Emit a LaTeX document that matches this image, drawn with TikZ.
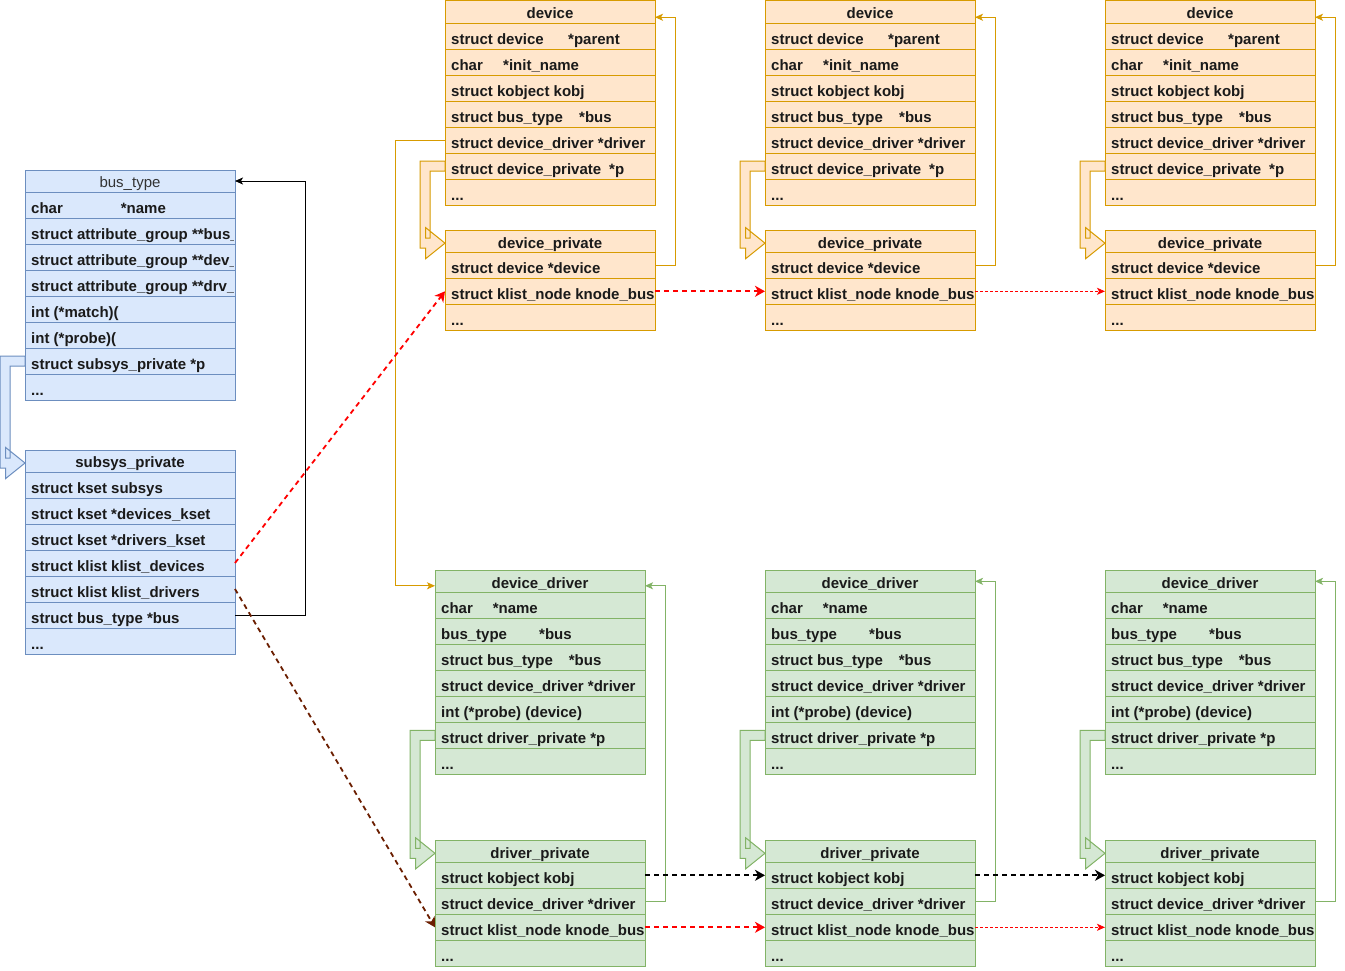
\documentclass[tikz,border=0pt]{standalone}
\usepackage{fontspec}
\setmainfont{Liberation Sans}
\usetikzlibrary{arrows.meta,calc}
\definecolor{ofill}{HTML}{FFE6CC}
\definecolor{ostroke}{HTML}{D79B00}
\definecolor{gfill}{HTML}{D5E8D4}
\definecolor{gstroke}{HTML}{82B366}
\definecolor{bfill}{HTML}{DAE8FC}
\definecolor{bstroke}{HTML}{6C8EBF}
\definecolor{brownline}{HTML}{6B1E00}
\definecolor{txt}{HTML}{1A1A1A}
\definecolor{hdrgray}{HTML}{333333}
\definecolor{redline}{HTML}{FF0000}
\newcommand\threedots{...}
\tikzset{
 orangebox/.style={fill=ofill, draw=ostroke},
 greenbox/.style={fill=gfill, draw=gstroke},
 bluebox/.style={fill=bfill, draw=bstroke},
 cell/.style={anchor=north west, minimum width=210pt, inner sep=0pt, outer sep=0pt, line width=1pt, rectangle},
 rowtext/.style={anchor=base west, inner sep=0pt, font=\fontsize{15}{18}\selectfont\bfseries, text=txt},
 hdrtext/.style={anchor=base, inner sep=0pt, font=\fontsize{15}{18}\selectfont\bfseries, text=txt},
 flexo/.style={fill=ofill, draw=ostroke, line width=1pt, line join=miter},
 flexg/.style={fill=gfill, draw=gstroke, line width=1pt, line join=miter},
 flexb/.style={fill=bfill, draw=bstroke, line width=1pt, line join=miter},
 blkline/.style={draw=black, line width=1pt, -{Stealth[length=8pt,width=7pt,inset=2pt]}},
 oline/.style={draw=ostroke, line width=1pt, -{Stealth[length=8pt,width=7pt,inset=2pt]}},
 gline/.style={draw=gstroke, line width=1pt, -{Stealth[length=8pt,width=7pt,inset=2pt]}},
 reddash/.style={draw=redline, line width=1.8pt, dash pattern=on 5pt off 4pt, -{Stealth[length=10pt,width=11pt,inset=3pt]}},
 browndash/.style={draw=brownline, line width=1.8pt, dash pattern=on 5pt off 4pt, -{Stealth[length=10pt,width=11pt,inset=3pt]}},
 blackdash/.style={draw=black, line width=1.8pt, dash pattern=on 5pt off 4pt, -{Stealth[length=10pt,width=11pt,inset=3pt]}},
 reddot/.style={draw=redline, line width=0.9pt, dash pattern=on 3pt off 2pt, -{Stealth[length=8pt,width=7pt,inset=2pt]}},
}
\newcommand\mkstruct[7]{%
  \node[cell,#5,minimum height=#4pt] (#1-h) at (#2,#3) {};
  \node[hdrtext] (#1-ht) at ({#2+105},{#3+#4-4.2}) {#6};
  \foreach \rowtxt [count=\i] in {#7} {
    \node[cell,#5,minimum height=26pt] (#1-\i) at ({#2},{#3+#4+(\i-1)*26}) {};
  }
  \begin{scope}
    \clip (#2,#3) rectangle ({#2+208},970);
    \foreach \rowtxt [count=\i] in {#7} {
      \node[rowtext] (#1-t\i) at ({#2+6},{#3+#4+(\i-1)*26+21.2}) {\rowtxt};
    }
  \end{scope}
}
\newcommand\flexarr[3]{%
 \path[#3] let \p1=(#1.west), \p2=(#2.west) in
  (\x1,\y1+5pt) -- (\x1-25pt,\y1+5pt) -- (\x1-25pt,\y2-7pt) -- (\x1-19.3pt,\y2-7pt)
  -- (\x1-19.3pt,\y2-17.5pt) -- (\x2,\y2-2pt) -- (\x1-19.3pt,\y2+13.5pt)
  -- (\x1-19.3pt,\y2+3pt) -- (\x1-15pt,\y2+3pt) -- (\x1-15pt,\y1-5pt) -- (\x1,\y1-5pt) -- cycle;
}
\begin{document}
\begin{tikzpicture}[x=1pt,y=-1pt]
\fill[white] (0,0) rectangle (1345,970);
\useasboundingbox (0,0) rectangle (1345,970);

% bus_type
\mkstruct{bt}{25}{170}{22}{bluebox}{\mdseries\color{hdrgray}bus\_type}{
 {\makebox[89.7pt][l]{char}*name},
 {struct attribute\_group **bus\_},
 {struct attribute\_group **dev\_},
 {struct attribute\_group **drv\_},
 {int (*match)(},
 {int (*probe)(},
 {struct subsys\_private *p},
 {\threedots}}
% subsys_private
\mkstruct{sp}{25}{450}{22}{bluebox}{subsys\_private}{
 {struct kset subsys},
 {struct kset *devices\_kset},
 {struct kset *drivers\_kset},
 {struct klist klist\_devices},
 {struct klist klist\_drivers},
 {struct bus\_type *bus},
 {\threedots}}

% devices
\foreach \nm/\xx in {d1/445,d2/765,d3/1105}{
\mkstruct{\nm}{\xx}{0.5}{22.5}{orangebox}{device}{
 {\makebox[117pt][l]{struct device}*parent},
 {\makebox[52pt][l]{char}*init\_name},
 {struct kobject kobj},
 {\makebox[128pt][l]{struct bus\_type}*bus},
 {struct device\_driver *driver},
 {\makebox[158pt][l]{struct device\_private}*p},
 {\threedots}}
}
\foreach \nm/\xx in {dp1/445,dp2/765,dp3/1105}{
\mkstruct{\nm}{\xx}{230}{22.3}{orangebox}{device\_private}{
 {struct device *device},
 {struct klist\_node knode\_bus},
 {\threedots}}
}
% drivers
\foreach \nm/\xx in {g1/435,g2/765,g3/1105}{
\mkstruct{\nm}{\xx}{570.3}{22}{greenbox}{device\_driver}{
 {\makebox[51.6pt][l]{char}*name},
 {\makebox[98pt][l]{bus\_type}*bus},
 {\makebox[127.7pt][l]{struct bus\_type}*bus},
 {struct device\_driver *driver},
 {int (*probe) (device)},
 {struct driver\_private *p},
 {\threedots}}
}
\foreach \nm/\xx in {drp1/435,drp2/765,drp3/1105}{
\mkstruct{\nm}{\xx}{840.3}{22}{greenbox}{driver\_private}{
 {struct kobject kobj},
 {struct device\_driver *driver},
 {struct klist\_node knode\_bus},
 {\threedots}}
}

% flex arrows
\flexarr{bt-7}{sp-h}{flexb}
\flexarr{d1-6}{dp1-h}{flexo}
\flexarr{d2-6}{dp2-h}{flexo}
\flexarr{d3-6}{dp3-h}{flexo}
\flexarr{g1-6}{drp1-h}{flexg}
\flexarr{g2-6}{drp2-h}{flexg}
\flexarr{g3-6}{drp3-h}{flexg}

% connectors
\draw[blkline] (sp-6.east) -- ++(70,0) |- (bt-h.east);
\draw[oline] (d1-5.west) -- ++(-49.3,0) |- ($(g1-h.west)+(0,4.5)$);
\draw[oline] (dp1-1.east) -- ++(20,0) |- ($(d1-h.east)+(0,5.5)$);
\draw[oline] (dp2-1.east) -- ++(20,0) |- ($(d2-h.east)+(0,5.5)$);
\draw[oline] (dp3-1.east) -- ++(20,0) |- ($(d3-h.east)+(0,5.5)$);
\draw[gline] (drp1-2.east) -- ++(20,0) |- ($(g1-h.east)+(0,4.5)$);
\draw[gline] (drp2-2.east) -- ++(20,0) |- (g2-h.east);
\draw[gline] (drp3-2.east) -- ++(20,0) |- (g3-h.east);

\draw[reddash] (sp-4.east) -- (dp1-2.west);
\draw[browndash] (sp-5.east) -- (drp1-3.west);
\draw[reddash] (dp1-2.east) -- (dp2-2.west);
\draw[reddot] (dp2-2.east) -- (dp3-2.west);
\draw[blackdash] (drp1-1.east) -- (drp2-1.west);
\draw[blackdash] (drp2-1.east) -- (drp3-1.west);
\draw[reddash] (drp1-3.east) -- (drp2-3.west);
\draw[reddot] (drp2-3.east) -- (drp3-3.west);
\end{tikzpicture}
\end{document}
